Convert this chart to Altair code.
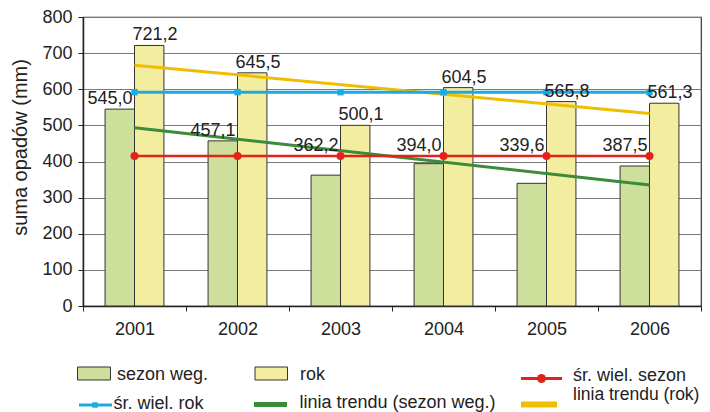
import altair as alt
import pandas as pd

# ---- data ----
years = ["2001", "2002", "2003", "2004", "2005", "2006"]
sezon_weg = [545.0, 457.1, 362.2, 394.0, 339.6, 387.5]
rok = [721.2, 645.5, 500.1, 604.5, 565.8, 561.3]
sr_wiel_sezon = 415.0
sr_wiel_rok = 592.0
series_names = ["sezon weg.", "rok"]
legend_labels = ["sezon weg.", "rok", "śr. wiel. sezon", "śr. wiel. rok",
                 "linia trendu (sezon weg.)", "linia trendu (rok)"]
y_title = "suma opadów (mm)"

FONT = "Liberation Sans"
C_GREEN_BAR = "#CEDF9C"
C_YELLOW_BAR = "#F3EE9F"
C_RED = "#E2231A"
C_BLUE = "#1AABE3"
C_GREEN_TREND = "#3A8B3C"
C_YELLOW_TREND = "#F0BE00"

long_df = pd.DataFrame({
    "year": years * 2,
    "series": [series_names[0]] * len(years) + [series_names[1]] * len(years),
    "value": sezon_weg + rok,
})
wide_df = pd.DataFrame({
    "year": years,
    "yearnum": [int(y) for y in years],
    "sezon": sezon_weg,
    "rok": rok,
    "sr_sezon": [sr_wiel_sezon] * len(years),
    "sr_rok": [sr_wiel_rok] * len(years),
})

x_enc = alt.X("year:N", title=None, sort=years,
              scale=alt.Scale(domain=years, paddingInner=0, paddingOuter=0),
              axis=alt.Axis(labelAngle=0, tickBand="extent", tickSize=5,
                            labelPadding=9, labelFontSize=18, labelColor="#222",
                            domainColor="#222", domainWidth=1.5, tickColor="#222",
                            grid=False))
y_scale = alt.Scale(domain=[0, 800], nice=False)


def yq(field):
    return alt.Y(field, title=y_title, scale=y_scale,
                 axis=alt.Axis(values=list(range(0, 801, 100)), tickSize=5,
                               labelPadding=6, labelFontSize=18, labelColor="#222",
                               domainColor="#222", domainWidth=1.5, tickColor="#222",
                               gridColor="#7a7a7a", gridWidth=1,
                               titleFontSize=20, titleFontWeight="normal",
                               titleColor="#222", titleX=-57, titleY=130,
                               titleBaseline="alphabetic", titleAlign="center"))


bars = alt.Chart(long_df).mark_bar(stroke="#333", strokeWidth=1).encode(
    x=x_enc,
    xOffset=alt.XOffset("series:N", sort=series_names,
                        scale=alt.Scale(domain=series_names, paddingInner=0,
                                        paddingOuter=0.75)),
    y=yq("value:Q"),
    fill=alt.Fill("series:N", legend=None,
                  scale=alt.Scale(domain=series_names,
                                  range=[C_GREEN_BAR, C_YELLOW_BAR])),
)

base = alt.Chart(wide_df)

trend_sezon = base.transform_regression("yearnum", "sezon").transform_calculate(
    year="toString(datum.yearnum)").mark_line(
    color=C_GREEN_TREND, strokeWidth=3).encode(x=x_enc, y=yq("sezon:Q"))
trend_rok = base.transform_regression("yearnum", "rok").transform_calculate(
    year="toString(datum.yearnum)").mark_line(
    color=C_YELLOW_TREND, strokeWidth=3).encode(x=x_enc, y=yq("rok:Q"))

mean_sezon_line = base.mark_line(color=C_RED, strokeWidth=2.5).encode(
    x=x_enc, y=yq("sr_sezon:Q"))
mean_sezon_pts = base.mark_point(filled=True, shape="circle", size=64,
                                 color=C_RED, opacity=1).encode(
    x=x_enc, y=yq("sr_sezon:Q"))
mean_rok_line = base.mark_line(color=C_BLUE, strokeWidth=3).encode(
    x=x_enc, y=yq("sr_rok:Q"))
mean_rok_pts = base.mark_point(filled=True, shape="square", size=42,
                               color=C_BLUE, opacity=1).encode(
    x=x_enc, y=yq("sr_rok:Q"))

lbl_sezon = base.transform_calculate(
    pos=f"max(datum.sezon, {sr_wiel_sezon})",
    txt="replace(format(datum.sezon, '.1f'), '.', ',')",
).mark_text(align="right", baseline="alphabetic", dx=-2, dy=-5,
            fontSize=18, color="#222").encode(
    x=x_enc, y=yq("pos:Q"), text="txt:N")
lbl_rok = base.transform_calculate(
    txt="replace(format(datum.rok, '.1f'), '.', ',')",
).mark_text(align="left", baseline="alphabetic", dx=-2, dy=-5,
            fontSize=18, color="#222").encode(
    x=x_enc, y=yq("rok:Q"), text="txt:N")

# ---- hand-built legend below the plot (pixel layout, not data) ----


def leg_text(label, lx, ly, size=18):
    return alt.Chart(pd.DataFrame({"label": [label]})).mark_text(
        align="left", baseline="alphabetic", fontSize=size, color="#222").encode(
        x=alt.value(lx), y=alt.value(ly), text="label:N")


def leg_rect(lx1, lx2, ly1, ly2, fill):
    return alt.Chart(pd.DataFrame({"k": [0]})).mark_rect(
        fill=fill, stroke="#333", strokeWidth=1).encode(
        x=alt.value(lx1), x2=alt.value(lx2), y=alt.value(ly1), y2=alt.value(ly2))


def leg_line(lx1, lx2, ly, color, width):
    return alt.Chart(pd.DataFrame({"k": [0]})).mark_rule(
        color=color, strokeWidth=width).encode(
        x=alt.value(lx1), x2=alt.value(lx2), y=alt.value(ly))


def leg_point(lx, ly, color, shape, size):
    return alt.Chart(pd.DataFrame({"k": [0]})).mark_point(
        filled=True, shape=shape, size=size, color=color, opacity=1).encode(
        x=alt.value(lx), y=alt.value(ly))


legend_layers = [
    leg_rect(-5.5, 27.5, 350, 363, C_GREEN_BAR),
    leg_text(legend_labels[0], 34, 363),
    leg_rect(172, 204.5, 350, 363, C_YELLOW_BAR),
    leg_text(legend_labels[1], 217, 363),
    leg_line(438, 479, 361.5, C_RED, 3),
    leg_point(458.5, 361.5, C_RED, "circle", 80),
    leg_text(legend_labels[2], 490, 364),
    leg_line(-4, 29, 388, C_BLUE, 3),
    leg_point(12, 388, C_BLUE, "square", 30),
    leg_text(legend_labels[3], 30.5, 391.5),
    leg_line(171, 204, 387.5, C_GREEN_TREND, 5),
    leg_text(legend_labels[4], 216.5, 391),
    leg_line(438, 474, 387.5, C_YELLOW_TREND, 6),
    leg_text(legend_labels[5], 490, 383, 17.5),
]

chart = alt.layer(
    bars, trend_sezon, trend_rok, mean_sezon_line, mean_sezon_pts,
    mean_rok_line, mean_rok_pts, lbl_sezon, lbl_rok, *legend_layers,
).properties(
    width=618, height=289,
    autosize=alt.AutoSizeParams(type="none"),
    padding={"left": 75, "top": 9, "right": 1, "bottom": 106},
).configure(font=FONT).configure_view(stroke="#333", strokeWidth=1.2)

chart.save("out.html", embed_options={"renderer": "svg", "actions": False})
